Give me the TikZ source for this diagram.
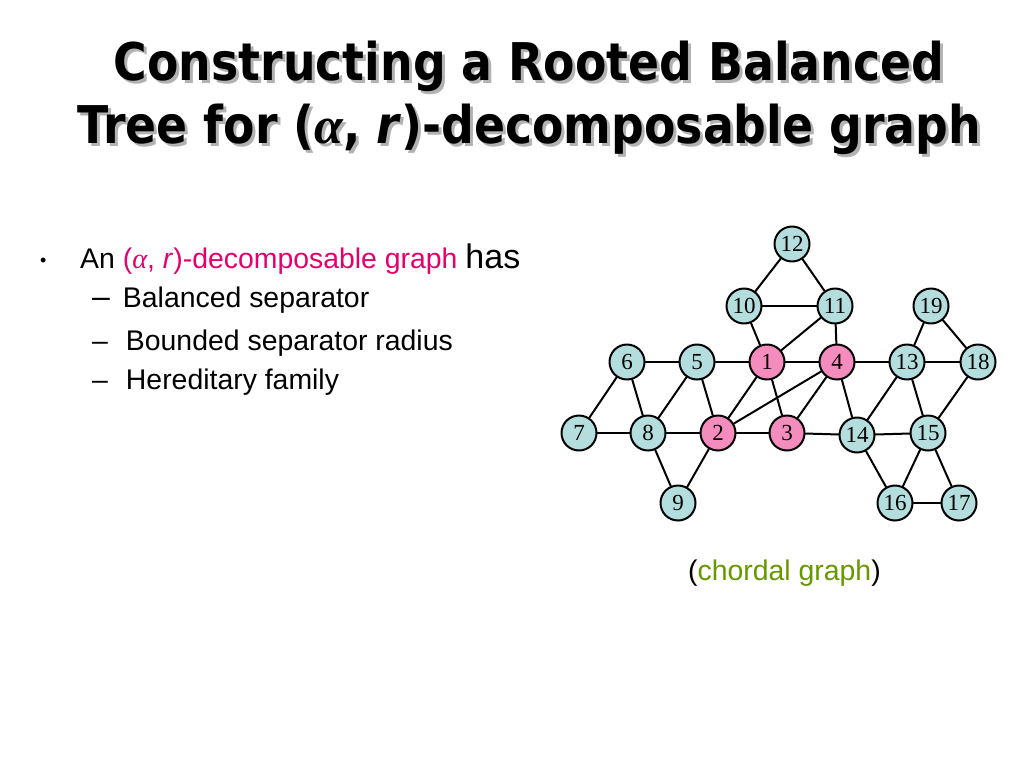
\documentclass[tikz,border=0pt]{standalone}
\usepackage{fontspec}
\setmainfont{Liberation Sans}
\newfontfamily\titlefont[FakeStretch=0.88]{DejaVu Sans}
\newfontfamily\numfont{Liberation Serif}
\newcommand{\alphasym}{{\numfont\itshape α}}
\definecolor{vblue}{RGB}{180,222,222}
\definecolor{vpink}{RGB}{245,140,190}
\definecolor{hlpink}{RGB}{230,0,110}
\definecolor{chordgreen}{RGB}{102,153,0}
\tikzset{
  vtx/.style={circle,draw,line width=2pt,fill=vblue,minimum size=35pt,inner sep=0pt,
    font=\numfont\fontsize{23}{23}\selectfont},
  sepvtx/.style={vtx,fill=vpink},
  txt/.style={anchor=base west,inner sep=0pt,font=\fontsize{28.4}{28.4}\selectfont},
  ttl/.style={align=center,inner sep=0pt,font=\titlefont\bfseries\fontsize{52}{63}\selectfont}
}
\begin{document}
\begin{tikzpicture}[x=1pt,y=-1pt,line join=round,line cap=round]
  \useasboundingbox[fill=white] (0,0) rectangle (1024,768);
  % title with its shadow
  \node[ttl,text=black!30] (titleshadow) at (532,101) {Constructing a Rooted Balanced\\Tree for (\alphasym, \textit{r})-decomposable graph};
  \node[ttl] (title) at (529,98) {Constructing a Rooted Balanced\\Tree for (\alphasym, \textit{r})-decomposable graph};
  % bullet list
  \node[txt,font=\fontsize{18}{18}\selectfont] (bullet) at (40,266) {\textbullet};
  \node[txt] (line1) at (80,268) {An \textcolor{hlpink}{(\alphasym, \textit{r})-decomposable graph} {\fontsize{34}{34}\selectfont has}};
  \node[txt] (line2) at (92,307) {{\fontsize{32}{32}\selectfont --}\hspace{13pt}Balanced separator};
  \node[txt] (line3) at (92,350) {--\hspace{18pt}Bounded separator radius};
  \node[txt] (line4) at (92,389) {--\hspace{18pt}Hereditary family};
  % the graph
  \foreach \n/\x/\y in {12/792/244,10/744/306,11/835/306,19/931/306,6/627/362,5/697/362,
      13/907/362,18/978/362,7/579/433,8/648/433,14/857/435,15/928/433,9/678/503,16/895/503,17/959/503}
    \node[vtx] (v\n) at (\x,\y) {\n};
  \foreach \n/\x/\y in {1/767/362,4/837/362,2/718/433,3/787/433}
    \node[sepvtx] (v\n) at (\x,\y) {\n};
  \foreach \a/\b in {12/10,12/11,10/11,10/1,11/1,11/4,19/13,19/18,6/5,5/1,1/4,4/13,13/18,
      6/7,6/8,5/8,5/2,1/2,1/3,4/2,4/3,4/14,13/14,13/15,18/15,7/8,8/2,2/3,3/14,14/15,
      8/9,2/9,14/16,15/16,15/17,16/17}
    \draw[line width=2pt] (v\a) -- (v\b);
  \node[txt] (caption) at (688,580) {(\textcolor{chordgreen}{chordal graph})};
\end{tikzpicture}
\end{document}
